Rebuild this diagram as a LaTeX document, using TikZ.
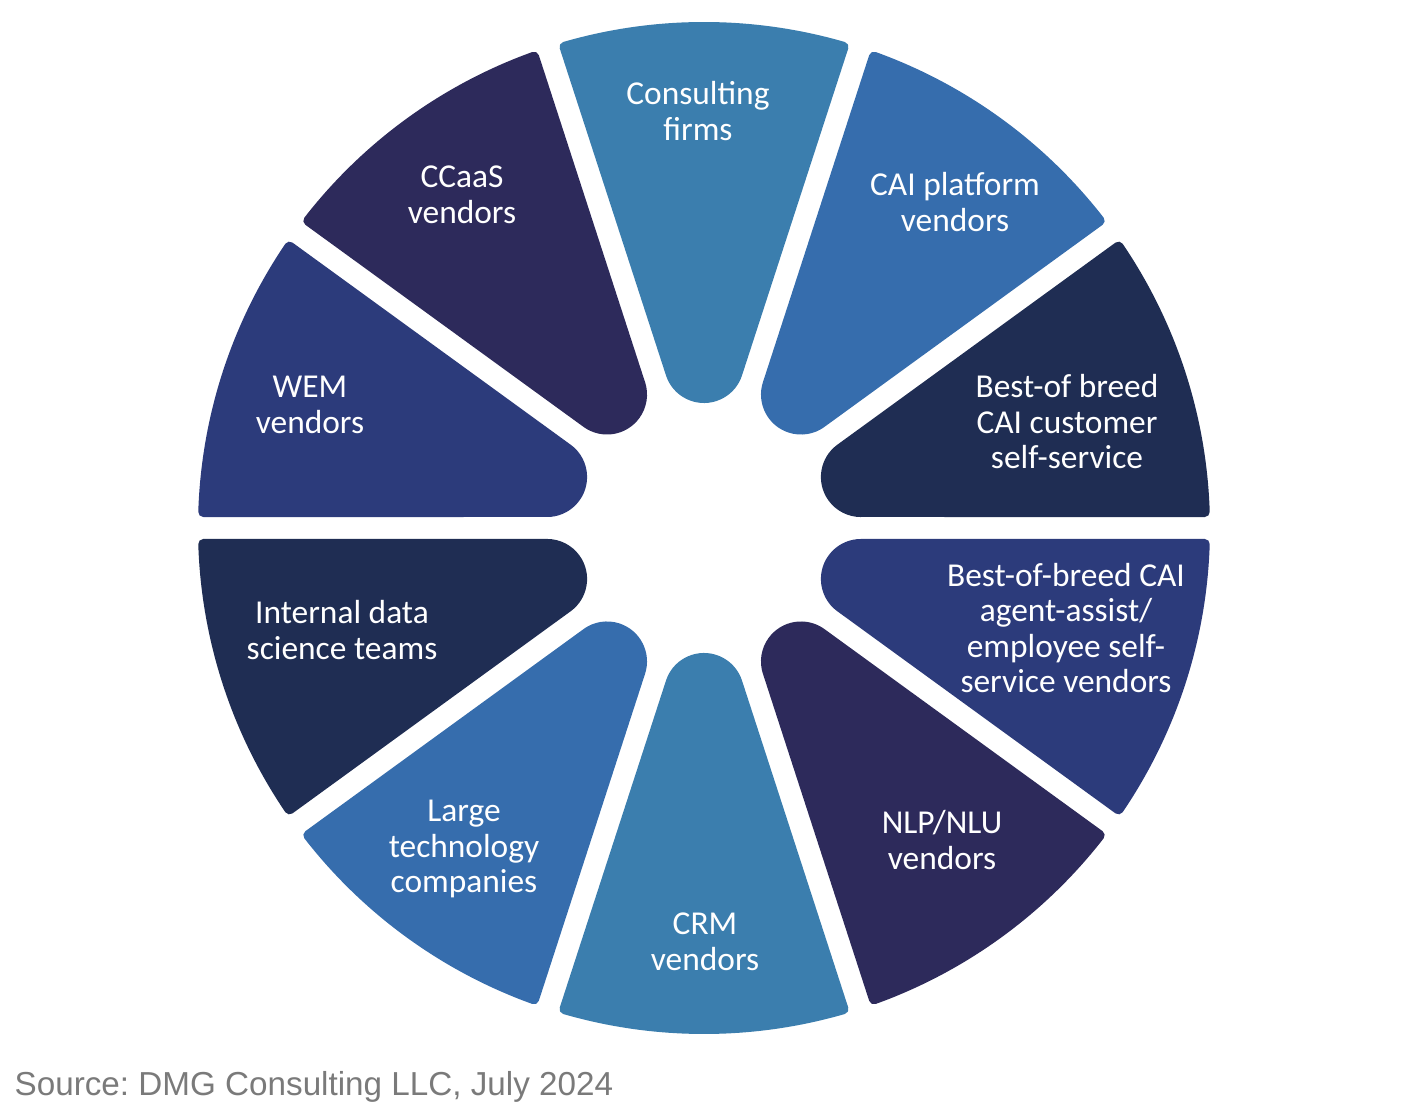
\documentclass[tikz,border=0pt]{standalone}
\usepackage{fontspec}
\setmainfont{Carlito}
\newfontfamily\lblfont{Carlito}
\newfontfamily\srcfont{Liberation Sans}
\usetikzlibrary{calc}
\frenchspacing
\definecolor{cteal}{HTML}{3B7EAE}
\definecolor{cmid}{HTML}{366DAD}
\definecolor{cdark}{HTML}{1F2D53}
\definecolor{cindigo}{HTML}{2C3B7B}
\definecolor{cpurple}{HTML}{2D2A5B}
\definecolor{csrc}{HTML}{7A7A7A}
\newcommand{\wheelseg}[2]{%
  \path[fill=#2, draw=#2, line width=0.1cm, line join=round]
    ($(#1-18:156.9)+(#1+72:16)$) -- (#1-18+1.83:501)
    arc[start angle=#1-18+1.83, end angle=#1+18-1.83, radius=501]
    -- ($(#1+18:156.9)+(#1-72:16)$)
    arc[start angle=#1+108, end angle=#1+252, radius=35] -- cycle;}
\begin{document}
\begin{tikzpicture}[x=0.01cm,y=0.01cm,
  lbl/.style={text=white, align=center, inner sep=0pt,
    font=\lblfont\fontsize{9.5pt}{10.1pt}\selectfont}]
\useasboundingbox (-704,-588) rectangle (712,528);
\wheelseg{90}{cteal}
\wheelseg{54}{cmid}
\wheelseg{18}{cdark}
\wheelseg{-18}{cindigo}
\wheelseg{-54}{cpurple}
\wheelseg{-90}{cteal}
\wheelseg{-126}{cmid}
\wheelseg{-162}{cdark}
\wheelseg{162}{cindigo}
\wheelseg{126}{cpurple}
\node[lbl] (consult) at (-6,417) {Consulting\\firms};
\node[lbl] (caiplat) at (251,326) {CAI platform\\vendors};
\node[lbl] (bobself) at (363,106) {Best-of breed\\CAI customer\\self-service};
\node[lbl] (bobagent) at (362,-100) {Best-of-breed CAI\\agent-assist/\\employee self-\\service vendors};
\node[lbl] (nlp) at (238,-312) {NLP/NLU\\vendors};
\node[lbl] (crm) at (1,-414) {CRM\\vendors};
\node[lbl] (largetech) at (-240,-321) {Large\\technology\\companies};
\node[lbl] (internal) at (-362,-102) {Internal data\\science teams};
\node[lbl] (wem) at (-394,123) {WEM\\vendors};
\node[lbl] (ccaas) at (-242,333) {CCaaS\\vendors};
\node[anchor=base west, inner sep=0pt, text=csrc,
  font=\srcfont\fontsize{9.45pt}{11pt}\selectfont] (source) at (-690,-567)
  {Source: DMG Consulting LLC, July 2024};
\end{tikzpicture}
\end{document}
